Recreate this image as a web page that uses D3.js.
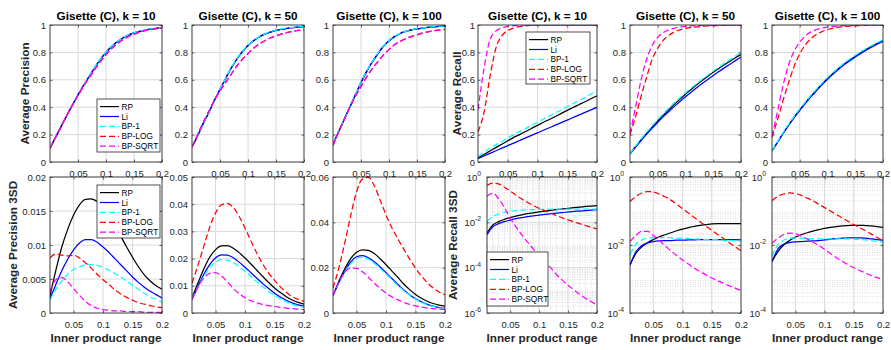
<!DOCTYPE html>
<html>
<head>
<meta charset="utf-8">
<script src="https://cdn.jsdelivr.net/npm/d3@7"></script>
<style>
  body { margin: 0; background: #fff; }
  svg { display: block; }
  text { font-family: "Liberation Sans", Arial, Helvetica, sans-serif; }
</style>
</head>
<body>
<svg id="chart" width="891" height="350"></svg>
<script>
// ---- series ----
const seriesNames  = ["RP", "Li", "BP-1", "BP-LOG", "BP-SQRT"];
const seriesColors = ["#000000", "#0000ff", "#00ffff", "#ff0000", "#ff00ff"];
const seriesDash   = [null, null, "6,3", "6,3", "6,3"];

// ---- x samples (inner product range) ----
const xTop = [0, 0.01, 0.02, 0.03, 0.04, 0.05, 0.06, 0.07, 0.08, 0.09, 0.1,
              0.11, 0.12, 0.13, 0.14, 0.15, 0.16, 0.17, 0.18, 0.19, 0.2];
const xBottom = [0.01, 0.02, 0.03, 0.04, 0.05, 0.06, 0.07, 0.08, 0.09, 0.1,
                 0.11, 0.12, 0.13, 0.14, 0.15, 0.16, 0.17, 0.18, 0.19, 0.2];

// ---- tick labels ----
const xTickValues = [0.05, 0.1, 0.15, 0.2];
const xTickLabels = ["0.05", "0.1", "0.15", "0.2"];
const unitTicks = [0, 0.2, 0.4, 0.6, 0.8, 1];
const unitTickLabels = ["0", "0.2", "0.4", "0.6", "0.8", "1"];
const precSdK10Ticks = [0, 0.005, 0.01, 0.015, 0.02];
const precSdK10Labels = ["0", "0.005", "0.01", "0.015", "0.02"];
const precSdK50Ticks = [0, 0.01, 0.02, 0.03, 0.04, 0.05];
const precSdK50Labels = ["0", "0.01", "0.02", "0.03", "0.04", "0.05"];
const precSdK100Ticks = [0, 0.02, 0.04, 0.06];
const precSdK100Labels = ["0", "0.02", "0.04", "0.06"];
const recSdK10Ticks = [1e-6, 1e-4, 1e-2, 1];
const recSdK10Exps = ["-6", "-4", "-2", "0"];
const recSdTicks = [1e-4, 1e-2, 1];
const recSdExps = ["-4", "-2", "0"];

// ---- Average Precision (order: RP, Li, BP-1, BP-LOG, BP-SQRT) ----
const precisionK10 = [
  [0.10,0.18,0.26,0.34,0.415,0.49,0.56,0.625,0.69,0.75,0.80,0.843,0.878,0.905,0.926,0.942,0.954,0.963,0.97,0.976,0.98],
  [0.10,0.18,0.26,0.34,0.415,0.49,0.56,0.625,0.69,0.75,0.80,0.843,0.878,0.905,0.926,0.942,0.954,0.963,0.97,0.976,0.98],
  [0.10,0.18,0.26,0.34,0.416,0.492,0.562,0.627,0.692,0.752,0.802,0.845,0.879,0.906,0.927,0.943,0.955,0.964,0.971,0.977,0.981],
  [0.10,0.18,0.26,0.34,0.415,0.485,0.552,0.615,0.675,0.732,0.783,0.826,0.862,0.892,0.915,0.933,0.947,0.958,0.966,0.973,0.978],
  [0.10,0.18,0.26,0.34,0.415,0.486,0.553,0.617,0.677,0.734,0.785,0.828,0.864,0.893,0.916,0.934,0.948,0.959,0.967,0.974,0.979]
];
const precisionK50 = [
  [0.11,0.19,0.28,0.36,0.45,0.53,0.61,0.685,0.75,0.805,0.85,0.885,0.912,0.933,0.948,0.96,0.969,0.976,0.981,0.985,0.988],
  [0.11,0.19,0.28,0.36,0.45,0.53,0.61,0.685,0.75,0.805,0.85,0.885,0.912,0.933,0.948,0.96,0.969,0.976,0.981,0.985,0.988],
  [0.11,0.19,0.28,0.36,0.45,0.532,0.613,0.688,0.753,0.808,0.853,0.888,0.915,0.935,0.95,0.962,0.971,0.978,0.983,0.987,0.99],
  [0.11,0.20,0.29,0.37,0.45,0.52,0.58,0.64,0.70,0.75,0.79,0.83,0.86,0.885,0.905,0.92,0.933,0.945,0.953,0.96,0.965],
  [0.11,0.20,0.29,0.37,0.45,0.52,0.582,0.642,0.70,0.75,0.792,0.832,0.862,0.887,0.907,0.922,0.935,0.946,0.954,0.961,0.966]
];
const precisionK100 = [
  [0.13,0.22,0.31,0.40,0.49,0.58,0.66,0.73,0.79,0.845,0.885,0.915,0.938,0.953,0.964,0.972,0.978,0.983,0.987,0.99,0.992],
  [0.13,0.22,0.31,0.40,0.49,0.58,0.66,0.73,0.79,0.845,0.885,0.915,0.938,0.953,0.964,0.972,0.978,0.983,0.987,0.99,0.992],
  [0.13,0.22,0.31,0.40,0.49,0.582,0.663,0.733,0.793,0.847,0.887,0.917,0.939,0.954,0.965,0.973,0.979,0.984,0.988,0.991,0.993],
  [0.12,0.22,0.31,0.40,0.48,0.55,0.62,0.68,0.73,0.78,0.82,0.855,0.88,0.90,0.915,0.928,0.94,0.95,0.957,0.963,0.968],
  [0.12,0.22,0.31,0.40,0.48,0.55,0.622,0.682,0.732,0.782,0.822,0.857,0.882,0.902,0.917,0.93,0.942,0.951,0.958,0.964,0.969]
];

// ---- Average Recall ----
const recallK10 = [
  [0.03,0.055,0.08,0.105,0.13,0.155,0.18,0.20,0.223,0.245,0.267,0.29,0.31,0.332,0.355,0.377,0.398,0.42,0.44,0.462,0.483],
  [0.025,0.044,0.063,0.082,0.101,0.12,0.138,0.157,0.176,0.194,0.213,0.232,0.25,0.269,0.287,0.306,0.325,0.344,0.362,0.381,0.40],
  [0.04,0.07,0.10,0.125,0.15,0.175,0.2,0.222,0.245,0.268,0.29,0.314,0.336,0.358,0.38,0.403,0.426,0.449,0.472,0.496,0.52],
  [0.22,0.36,0.62,0.83,0.92,0.96,0.978,0.988,0.994,0.997,0.999,1,1,1,1,1,1,1,1,1,1],
  [0.38,0.68,0.89,0.955,0.98,0.99,0.995,0.998,0.999,1,1,1,1,1,1,1,1,1,1,1,1]
];
const recallK50 = [
  [0.06,0.112,0.162,0.209,0.255,0.299,0.342,0.382,0.421,0.459,0.495,0.529,0.563,0.595,0.625,0.655,0.683,0.71,0.736,0.761,0.785],
  [0.058,0.109,0.157,0.203,0.248,0.29,0.331,0.369,0.406,0.442,0.476,0.509,0.542,0.573,0.603,0.632,0.66,0.687,0.714,0.74,0.766],
  [0.06,0.115,0.168,0.218,0.265,0.31,0.353,0.393,0.432,0.469,0.505,0.539,0.572,0.604,0.634,0.664,0.692,0.72,0.747,0.773,0.80],
  [0.20,0.33,0.48,0.62,0.75,0.83,0.89,0.925,0.95,0.965,0.975,0.982,0.987,0.99,0.993,0.995,0.996,0.997,0.998,0.999,0.999],
  [0.21,0.40,0.60,0.75,0.85,0.91,0.945,0.965,0.977,0.985,0.99,0.993,0.995,0.997,0.998,0.998,0.999,0.999,1,1,1]
];
const recallK100 = [
  [0.08,0.145,0.21,0.27,0.327,0.38,0.431,0.479,0.525,0.568,0.609,0.647,0.682,0.714,0.744,0.772,0.798,0.822,0.845,0.866,0.885],
  [0.08,0.144,0.208,0.268,0.324,0.377,0.427,0.475,0.52,0.563,0.604,0.642,0.677,0.709,0.739,0.767,0.793,0.817,0.84,0.861,0.881],
  [0.082,0.149,0.215,0.276,0.333,0.387,0.438,0.486,0.532,0.575,0.616,0.654,0.689,0.721,0.751,0.779,0.805,0.829,0.851,0.872,0.891],
  [0.18,0.31,0.45,0.58,0.70,0.79,0.855,0.90,0.93,0.952,0.967,0.977,0.984,0.989,0.992,0.994,0.996,0.997,0.998,0.999,0.999],
  [0.19,0.37,0.56,0.71,0.81,0.875,0.92,0.95,0.967,0.978,0.985,0.99,0.993,0.995,0.997,0.998,0.999,0.999,0.999,1,1]
];

// ---- Average Precision 3SD ----
const precSdK10 = [
  [0.0025,0.0063,0.0097,0.0123,0.0144,0.0159,0.0167,0.0168,0.0164,0.0156,0.0144,0.0128,0.0113,0.0097,0.0082,0.0068,0.0056,0.0047,0.004,0.0035],
  [0.0021,0.0042,0.0062,0.0079,0.0093,0.0103,0.0108,0.0108,0.0104,0.0097,0.0089,0.008,0.0071,0.0062,0.0053,0.0045,0.0038,0.0032,0.0027,0.0022],
  [0.0019,0.0035,0.0047,0.0057,0.0064,0.0068,0.0071,0.0071,0.007,0.0067,0.0063,0.0058,0.0053,0.0047,0.0041,0.0035,0.0029,0.0024,0.002,0.0016],
  [0.0081,0.0087,0.0085,0.0084,0.0085,0.0081,0.0074,0.0066,0.0057,0.0049,0.0042,0.0034,0.0028,0.0023,0.0019,0.0015,0.0013,0.0011,0.0009,0.0008],
  [0.0032,0.0049,0.0052,0.0046,0.0036,0.0026,0.0017,0.0011,0.0007,0.0005,0.0004,0.0003,0.0003,0.0002,0.0002,0.0002,0.0001,0.0001,0.0001,0.0001]
];
const precSdK50 = [
  [0.0055,0.011,0.0162,0.0205,0.0233,0.0247,0.0248,0.0238,0.0222,0.0202,0.018,0.0157,0.0134,0.0112,0.0092,0.0075,0.006,0.0048,0.0039,0.0033],
  [0.005,0.0097,0.0142,0.0178,0.0203,0.0214,0.0213,0.0203,0.0187,0.0168,0.0148,0.0128,0.0108,0.009,0.0073,0.0059,0.0047,0.0037,0.003,0.0025],
  [0.0052,0.0095,0.0135,0.0167,0.0187,0.0196,0.0194,0.0185,0.017,0.0153,0.0134,0.0115,0.0097,0.008,0.0065,0.0052,0.0041,0.0032,0.0026,0.0021],
  [0.011,0.0175,0.0245,0.0315,0.0368,0.0398,0.0403,0.0388,0.0355,0.0312,0.0265,0.022,0.018,0.0147,0.012,0.0096,0.0076,0.006,0.005,0.0043],
  [0.005,0.0095,0.0128,0.0146,0.0148,0.0136,0.0114,0.0091,0.0071,0.0056,0.0045,0.0037,0.0031,0.0027,0.0024,0.0021,0.0018,0.0016,0.0014,0.0012]
];
const precSdK100 = [
  [0.0076,0.014,0.0195,0.024,0.0268,0.0279,0.0276,0.0262,0.0239,0.0213,0.0185,0.0157,0.0128,0.0103,0.0082,0.0065,0.0052,0.0042,0.0035,0.003],
  [0.0076,0.0135,0.0185,0.0225,0.0248,0.0253,0.0244,0.0226,0.0203,0.0178,0.0152,0.0126,0.0102,0.0081,0.0063,0.0049,0.0038,0.003,0.0024,0.002],
  [0.0074,0.0131,0.018,0.0218,0.024,0.0246,0.0237,0.022,0.0197,0.0172,0.0147,0.0122,0.0099,0.0079,0.0061,0.0047,0.0037,0.0029,0.0023,0.0019],
  [0.011,0.02,0.031,0.043,0.0535,0.0592,0.0598,0.0562,0.0498,0.0432,0.0375,0.0327,0.0282,0.0238,0.0198,0.0163,0.0134,0.011,0.0093,0.008],
  [0.0076,0.0135,0.018,0.0198,0.0197,0.0182,0.0158,0.0132,0.0108,0.0088,0.0071,0.0058,0.0047,0.0038,0.0031,0.0026,0.0022,0.0019,0.0017,0.0015]
];

// ---- Average Recall 3SD ----
const recSdK10 = [
  [3.39e-3,7.59e-3,1.07e-2,1.35e-2,1.62e-2,1.86e-2,2.14e-2,2.40e-2,2.63e-2,2.88e-2,3.16e-2,3.39e-2,3.63e-2,3.89e-2,4.17e-2,4.47e-2,4.68e-2,5.01e-2,5.25e-2,5.50e-2],
  [2.82e-3,6.31e-3,8.71e-3,1.07e-2,1.26e-2,1.45e-2,1.62e-2,1.78e-2,1.95e-2,2.09e-2,2.24e-2,2.40e-2,2.57e-2,2.69e-2,2.88e-2,3.02e-2,3.16e-2,3.31e-2,3.47e-2,3.63e-2],
  [1.10e-2,1.78e-2,2.34e-2,2.75e-2,3.09e-2,3.31e-2,3.47e-2,3.55e-2,3.63e-2,3.72e-2,3.72e-2,3.80e-2,3.80e-2,3.80e-2,3.80e-2,3.80e-2,3.80e-2,3.80e-2,3.80e-2,3.80e-2],
  [0.427,0.537,0.501,0.355,0.240,0.158,0.107,0.0759,0.0550,0.0417,0.0324,0.0251,0.0200,0.0158,0.0129,0.0105,0.00871,0.00724,0.00603,0.00513],
  [0.141,0.191,0.112,0.0447,0.0158,0.00631,0.00282,0.00135,6.61e-4,3.39e-4,1.78e-4,1.0e-4,5.01e-5,2.82e-5,1.66e-5,1.05e-5,6.76e-6,4.47e-6,3.16e-6,2.24e-6]
];
const recSdK50 = [
  [0.00263,0.00562,0.00871,0.0117,0.0145,0.0174,0.02,0.0229,0.0263,0.0295,0.0324,0.0355,0.038,0.0398,0.0417,0.0427,0.0427,0.0427,0.0427,0.0427],
  [0.00251,0.00631,0.00955,0.0115,0.0126,0.0132,0.0135,0.0135,0.0138,0.0138,0.0141,0.0141,0.0145,0.0145,0.0145,0.0145,0.0145,0.0145,0.0145,0.0141],
  [0.00525,0.0105,0.0141,0.0158,0.0166,0.0166,0.0166,0.0162,0.0158,0.0158,0.0155,0.0151,0.0148,0.0145,0.0145,0.0141,0.0138,0.0135,0.0132,0.0129],
  [0.191,0.269,0.339,0.372,0.363,0.316,0.263,0.209,0.158,0.117,0.0871,0.0646,0.0479,0.0355,0.0269,0.0204,0.0155,0.0117,0.00891,0.00676],
  [0.0126,0.0191,0.0251,0.0251,0.0191,0.0135,0.00955,0.00676,0.0049,0.00363,0.00275,0.00209,0.00166,0.00132,0.00107,8.91e-4,7.41e-4,6.31e-4,5.37e-4,4.57e-4]
];
const recSdK100 = [
  [0.00331,0.00631,0.01,0.0135,0.017,0.02,0.0229,0.0257,0.0282,0.0309,0.0331,0.0347,0.0363,0.0372,0.038,0.038,0.0372,0.0363,0.0347,0.0331],
  [0.00316,0.00759,0.0105,0.0117,0.0123,0.0126,0.0129,0.0132,0.0135,0.0141,0.0148,0.0155,0.0158,0.0162,0.0162,0.0162,0.0158,0.0151,0.0145,0.0138],
  [0.00468,0.01,0.0138,0.0158,0.0162,0.0158,0.0155,0.0151,0.0151,0.0151,0.0151,0.0151,0.0151,0.0151,0.0148,0.0145,0.0141,0.0135,0.0129,0.012],
  [0.2,0.269,0.316,0.339,0.324,0.288,0.24,0.2,0.158,0.126,0.1,0.0794,0.0631,0.0501,0.0398,0.0324,0.0263,0.0209,0.0166,0.0132],
  [0.0112,0.0158,0.0204,0.0224,0.0214,0.0182,0.0151,0.0123,0.00977,0.00741,0.00562,0.00427,0.00331,0.00263,0.00214,0.00178,0.00148,0.00126,0.0011,0.000955]
];

// ---- layout ----
const rows = [{ y0: 25, y1: 162 }, { y0: 177, y1: 313 }];
const panels = [
  { row: 0, x0: 50,  x1: 162, title: "Gisette (C), k = 10",  ylabel: "Average Precision", ylabelX: 29,
    data: precisionK10, yDomain: [0, 1], yTicks: unitTicks, yLabels: unitTickLabels,
    legend: { x: 97, y: 99, w: 63, h: 53 } },
  { row: 0, x0: 192, x1: 304, title: "Gisette (C), k = 50",  data: precisionK50, yDomain: [0, 1], yTicks: unitTicks, yLabels: unitTickLabels },
  { row: 0, x0: 333, x1: 445, title: "Gisette (C), k = 100", data: precisionK100, yDomain: [0, 1], yTicks: unitTicks, yLabels: unitTickLabels },
  { row: 0, x0: 478, x1: 597, title: "Gisette (C), k = 10",  ylabel: "Average Recall", ylabelX: 461, tickPad: 3,
    data: recallK10, yDomain: [0, 1], yTicks: unitTicks, yLabels: unitTickLabels,
    legend: { x: 526, y: 32, w: 64, h: 52 } },
  { row: 0, x0: 630, x1: 741, title: "Gisette (C), k = 50",  data: recallK50, yDomain: [0, 1], yTicks: unitTicks, yLabels: unitTickLabels },
  { row: 0, x0: 772, x1: 883, title: "Gisette (C), k = 100", data: recallK100, yDomain: [0, 1], yTicks: unitTicks, yLabels: unitTickLabels },

  { row: 1, x0: 50,  x1: 162, ylabel: "Average Precision 3SD", ylabelX: 16.5,
    data: precSdK10, yDomain: [0, 0.02], yTicks: precSdK10Ticks, yLabels: precSdK10Labels,
    legend: { x: 97, y: 185, w: 63, h: 53 } },
  { row: 1, x0: 192, x1: 304, data: precSdK50, yDomain: [0, 0.05], yTicks: precSdK50Ticks, yLabels: precSdK50Labels },
  { row: 1, x0: 333, x1: 445, data: precSdK100, yDomain: [0, 0.06], yTicks: precSdK100Ticks, yLabels: precSdK100Labels },
  { row: 1, x0: 487, x1: 597, ylabel: "Average Recall 3SD", ylabelX: 457, log: true, xMinor: true,
    data: recSdK10, yDomain: [1e-6, 1], yTicks: recSdK10Ticks, yExps: recSdK10Exps,
    legend: { x: 487, y: 252, w: 61, h: 54 } },
  { row: 1, x0: 630, x1: 741, log: true, data: recSdK50, yDomain: [1e-4, 1], yTicks: recSdTicks, yExps: recSdExps },
  { row: 1, x0: 772, x1: 883, log: true, data: recSdK100, yDomain: [1e-4, 1], yTicks: recSdTicks, yExps: recSdExps }
];

const axisColor = "#262626";
const gridColor = "#dadada";
const tickFont = 9.5;
const svg = d3.select("#chart");
const defs = svg.append("defs");

panels.forEach((p, pi) => {
  const r = rows[p.row];
  const xs = p.row === 0 ? xTop : xBottom;
  const xDomain = p.row === 0 ? [0, 0.2] : [0.01, 0.2];
  const x = d3.scaleLinear().domain(xDomain).range([p.x0, p.x1]);
  const y = (p.log ? d3.scaleLog() : d3.scaleLinear()).domain(p.yDomain).range([r.y1, r.y0]);
  const g = svg.append("g");
  const w = p.x1 - p.x0, h = r.y1 - r.y0;

  g.append("rect").attr("x", p.x0).attr("y", r.y0).attr("width", w).attr("height", h).attr("fill", "#fff");

  // minor grid (log axes)
  if (p.log) {
    const minor = [];
    const lo = Math.round(Math.log10(p.yDomain[0])), hi = Math.round(Math.log10(p.yDomain[1]));
    for (let k = lo; k < hi; k++) for (let m = 2; m <= 9; m++) minor.push(m * Math.pow(10, k));
    g.selectAll(null).data(minor).join("line")
      .attr("x1", p.x0).attr("x2", p.x1)
      .attr("y1", d => y(d)).attr("y2", d => y(d))
      .attr("stroke", "#c4c4c4").attr("stroke-width", 0.6).attr("stroke-dasharray", "1,1.5");
  }
  if (p.xMinor) {
    const mx = d3.range(2, 20).map(i => i / 100).filter(v => Math.round(v * 100) % 5 !== 0);
    g.selectAll(null).data(mx).join("line")
      .attr("x1", d => x(d)).attr("x2", d => x(d))
      .attr("y1", r.y0).attr("y2", r.y1)
      .attr("stroke", "#c4c4c4").attr("stroke-width", 0.6).attr("stroke-dasharray", "1,1.5");
  }

  // major grid
  g.selectAll(null).data(xTickValues.filter(v => v < 0.2)).join("line")
    .attr("x1", d => x(d)).attr("x2", d => x(d)).attr("y1", r.y0).attr("y2", r.y1)
    .attr("stroke", gridColor).attr("stroke-width", 1);
  g.selectAll(null).data(p.yTicks.slice(1, -1)).join("line")
    .attr("x1", p.x0).attr("x2", p.x1).attr("y1", d => y(d)).attr("y2", d => y(d))
    .attr("stroke", gridColor).attr("stroke-width", 1);

  // curves
  const clipId = "clip" + pi;
  defs.append("clipPath").attr("id", clipId).append("rect")
    .attr("x", p.x0).attr("y", r.y0).attr("width", w).attr("height", h);
  const line = d3.line().x((d, i) => x(xs[i])).y(d => y(d)).curve(d3.curveMonotoneX);
  const curves = g.append("g").attr("clip-path", `url(#${clipId})`);
  p.data.forEach((vals, s) => {
    curves.append("path").attr("d", line(vals))
      .attr("fill", "none").attr("stroke", seriesColors[s]).attr("stroke-width", 1.25)
      .attr("stroke-dasharray", seriesDash[s]);
  });

  // inward ticks on all four sides
  const tick = 2.5;
  const axisStyle = s => { s.select(".domain").remove(); s.selectAll(".tick line").attr("stroke", axisColor).attr("stroke-width", 0.7); };
  g.append("g").attr("transform", `translate(0,${r.y1})`).call(d3.axisBottom(x).tickValues(xTickValues).tickSize(-tick).tickFormat("")).call(axisStyle);
  g.append("g").attr("transform", `translate(0,${r.y0})`).call(d3.axisTop(x).tickValues(xTickValues).tickSize(-tick).tickFormat("")).call(axisStyle);
  g.append("g").attr("transform", `translate(${p.x0},0)`).call(d3.axisLeft(y).tickValues(p.yTicks).tickSize(-tick).tickFormat("")).call(axisStyle);
  g.append("g").attr("transform", `translate(${p.x1},0)`).call(d3.axisRight(y).tickValues(p.yTicks).tickSize(-tick).tickFormat("")).call(axisStyle);

  // box
  g.append("rect").attr("x", p.x0).attr("y", r.y0).attr("width", w).attr("height", h)
    .attr("fill", "none").attr("stroke", axisColor).attr("stroke-width", 0.9);

  // tick labels
  const labelStyle = s => {
    s.select(".domain").remove();
    s.selectAll(".tick line").remove();
    s.attr("font-family", '"Liberation Sans", Arial, sans-serif').attr("font-size", tickFont);
    s.selectAll("text").attr("fill", axisColor);
  };
  g.append("g").attr("transform", `translate(0,${r.y1})`)
    .call(d3.axisBottom(x).tickValues(xTickValues).tickFormat((d, i) => xTickLabels[i]).tickSize(0).tickPadding(7.8))
    .call(labelStyle);
  const yAxisG = g.append("g").attr("transform", `translate(${p.x0},0)`)
    .call(d3.axisLeft(y).tickValues(p.yTicks).tickFormat((d, i) => p.log ? "" : p.yLabels[i])
      .tickSize(0).tickPadding(p.log ? 6 : (p.tickPad || 4)))
    .call(labelStyle);
  if (p.log) {
    yAxisG.selectAll(".tick text").each(function (d, i) {
      const t = d3.select(this);
      t.append("tspan").text("10");
      t.append("tspan").attr("dy", -4.5).attr("font-size", 6.8).text(p.yExps[i]);
    });
  }

  // title
  if (p.title) {
    svg.append("text").attr("x", (p.x0 + p.x1) / 2).attr("y", 20).attr("text-anchor", "middle")
      .attr("font-size", 11.75).attr("font-weight", "bold").attr("fill", "#000").text(p.title);
  }
  // y label
  if (p.ylabel) {
    const cy = (r.y0 + r.y1) / 2;
    svg.append("text").attr("transform", `translate(${p.ylabelX},${cy}) rotate(-90)`)
      .attr("text-anchor", "middle").attr("font-size", 11.75).attr("font-weight", "bold")
      .attr("fill", axisColor).text(p.ylabel);
  }
  // x label
  if (p.row === 1) {
    svg.append("text").attr("x", (p.x0 + p.x1) / 2).attr("y", 342).attr("text-anchor", "middle")
      .attr("font-size", 11.75).attr("font-weight", "bold").attr("fill", axisColor).text("Inner product range");
  }

  // legend
  if (p.legend) {
    const L = p.legend;
    const lg = g.append("g");
    lg.append("rect").attr("x", L.x).attr("y", L.y).attr("width", L.w).attr("height", L.h)
      .attr("fill", "#fff").attr("stroke", axisColor).attr("stroke-width", 0.8);
    seriesNames.forEach((name, s) => {
      const ey = L.y + 7.6 + s * 9.9;
      lg.append("line").attr("x1", L.x + 3).attr("x2", L.x + 22).attr("y1", ey).attr("y2", ey)
        .attr("stroke", seriesColors[s]).attr("stroke-width", 1.2).attr("stroke-dasharray", seriesDash[s]);
      lg.append("text").attr("x", L.x + 24.5).attr("y", ey + 3).attr("font-size", 8.3)
        .attr("fill", "#000").text(name);
    });
  }
});
</script>
</body>
</html>
